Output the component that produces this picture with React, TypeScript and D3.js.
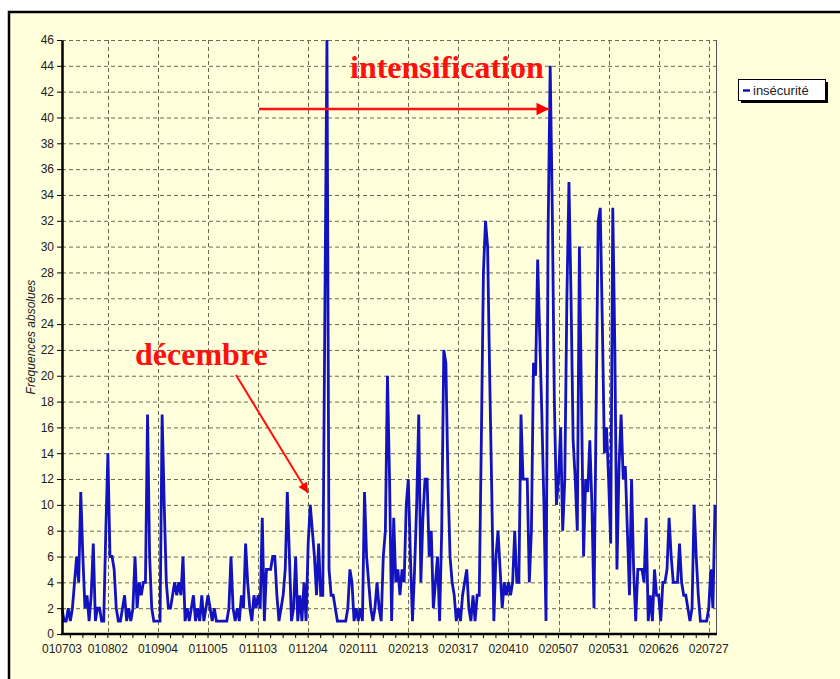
import { useEffect, useRef } from "react";
import * as d3 from "d3";

// category labels shown on the x axis and the category index where each sits
const tickLabels = [
  "010703", "010802", "010904", "011005", "011103", "011204", "020111",
  "020213", "020317", "020410", "020507", "020531", "020626", "020727"
];
const tickIndex = [0, 22, 46, 70, 94, 118, 142, 166, 190, 214, 238, 262, 286, 310];

// daily counts, series "insécurité"
const insecurite = [
  2, 1, 1, 2, 1, 2, 4, 6, 4, 11, 6, 2, 3, 1, 3, 7, 1, 2, 2, 1, 1, 8,
  14, 6, 6, 5, 2, 1, 1, 2, 3, 1, 2, 1, 2, 6, 2, 4, 3, 4, 4, 17, 6, 2, 1, 1,
  1, 1, 17, 10, 4, 2, 2, 3, 4, 3, 4, 3, 6, 1, 2, 1, 2, 3, 1, 2, 1, 3, 1, 2,
  3, 2, 1, 2, 1, 1, 1, 1, 1, 1, 2, 6, 2, 1, 2, 1, 3, 2, 7, 4, 2, 1, 3, 2,
  3, 2, 9, 1, 5, 5, 5, 6, 6, 3, 1, 2, 3, 5, 11, 6, 1, 2, 6, 1, 3, 1, 4, 1,
  7, 10, 8, 6, 3, 7, 3, 3, 25, 46, 5, 3, 3, 2, 1, 1, 1, 1, 1, 2, 5, 4, 1, 2,
  1, 2, 1, 11, 6, 4, 2, 1, 2, 4, 2, 1, 6, 8, 20, 12, 1, 9, 4, 5, 3, 5, 4, 10,
  12, 6, 1, 5, 10, 17, 4, 9, 12, 12, 6, 8, 2, 4, 6, 1, 8, 22, 21, 12, 6, 4, 3, 1,
  2, 1, 3, 4, 5, 2, 1, 3, 1, 3, 3, 15, 28, 32, 30, 20, 11, 1, 6, 8, 5, 2, 4, 3,
  4, 3, 4, 8, 4, 4, 17, 12, 12, 12, 4, 8, 21, 20, 29, 23, 17, 10, 1, 31, 44, 33, 18, 10,
  12, 16, 8, 12, 26, 35, 26, 15, 12, 8, 30, 18, 6, 12, 11, 15, 10, 2, 17, 32, 33, 24, 14, 16,
  12, 7, 33, 22, 5, 13, 17, 12, 13, 8, 3, 12, 5, 1, 5, 5, 5, 4, 9, 1, 3, 1, 5, 3,
  3, 1, 4, 4, 5, 9, 6, 4, 4, 4, 7, 4, 3, 3, 2, 1, 2, 10, 6, 3, 1, 1, 1, 1,
  2, 5, 2, 10
];

const yTicks = d3.range(0, 47, 2);

export default function App() {
  const ref = useRef<SVGSVGElement>(null);

  useEffect(() => {
    const width = 840;
    const height = 679;
    const left = 62;
    const right = 716;
    const top = 40;
    const bottom = 634;
    const font = "'Liberation Sans', Arial, sans-serif";

    const svg = d3.select(ref.current);
    svg.selectAll("*").remove();
    svg.attr("width", width).attr("height", height)
      .attr("viewBox", [0, 0, width, height])
      .attr("style", "position:absolute;left:0;top:0;background:#fff");

    // outer chart frame
    svg.append("rect")
      .attr("x", 9).attr("y", 12).attr("width", 860).attr("height", 700)
      .attr("fill", "#ffffdc").attr("stroke", "#000").attr("stroke-width", 2.5);

    const x = d3.scaleLinear()
      .domain([0, insecurite.length - 1])
      .range([left, 715]);

    const y = d3.scaleLinear()
      .domain([0, 46])
      .range([bottom, top]);

    const grid = svg.append("g")
      .attr("stroke", "#6a6a55").attr("stroke-width", 1).attr("stroke-dasharray", "4,3");

    grid.selectAll("line.h")
      .data(yTicks.filter(d => d > 0))
      .join("line")
        .attr("x1", left).attr("x2", right)
        .attr("y1", d => y(d) + 0.5).attr("y2", d => y(d) + 0.5);

    grid.selectAll("line.v")
      .data(tickIndex.slice(1))
      .join("line")
        .attr("x1", d => Math.round(x(d)) + 0.5).attr("x2", d => Math.round(x(d)) + 0.5)
        .attr("y1", top).attr("y2", bottom);

    // right frame of plot
    svg.append("line")
      .attr("x1", right + 0.5).attr("x2", right + 0.5)
      .attr("y1", top).attr("y2", bottom)
      .attr("stroke", "#555").attr("stroke-width", 1);

    // series line
    svg.append("path")
      .datum(insecurite)
      .attr("fill", "none")
      .attr("stroke", "#1212c0")
      .attr("stroke-width", 2.8)
      .attr("stroke-linejoin", "miter")
      .attr("d", d3.line<number>().x((d, i) => x(i)).y(d => y(d)));

    // axes
    const yAxis = svg.append("g")
      .attr("transform", `translate(${left},0)`)
      .call(d3.axisLeft(y).tickValues(yTicks).tickSize(5).tickSizeOuter(0).tickPadding(3));
    yAxis.select(".domain").attr("stroke-width", 2.5);
    yAxis.selectAll("text").attr("font-family", font).attr("font-size", 12).attr("fill", "#222");

    const xAxis = svg.append("g")
      .attr("transform", `translate(0,${bottom})`);
    xAxis.append("line")
      .attr("x1", left - 1).attr("x2", right + 1)
      .attr("stroke", "#000").attr("stroke-width", 2.5);
    const minor = d3.range(-5, 53).map(k => 22 + 6 * k).filter(i => i >= 0 && i < insecurite.length);
    xAxis.selectAll("line.m")
      .data(minor)
      .join("line")
        .attr("x1", d => x(d)).attr("x2", d => x(d))
        .attr("y1", 0).attr("y2", 4)
        .attr("stroke", "#000").attr("stroke-width", 1);
    xAxis.selectAll("text")
      .data(tickIndex)
      .join("text")
        .attr("x", d => x(d))
        .attr("y", 19)
        .attr("text-anchor", "middle")
        .attr("font-family", font).attr("font-size", 12).attr("fill", "#222")
        .text((d, i) => tickLabels[i]);

    // y axis title
    svg.append("text")
      .attr("transform", `translate(35,${(top + bottom) / 2}) rotate(-90)`)
      .attr("text-anchor", "middle")
      .attr("font-family", font).attr("font-size", 12).attr("font-style", "italic")
      .attr("fill", "#222")
      .text("Fréquences absolues");

    // legend
    const lg = svg.append("g").attr("transform", "translate(738,79)");
    lg.append("rect").attr("x", 3).attr("y", 3).attr("width", 87).attr("height", 21).attr("fill", "#000");
    lg.append("rect").attr("x", 0.5).attr("y", 0.5).attr("width", 87).attr("height", 21)
      .attr("fill", "#fff").attr("stroke", "#000");
    lg.append("line").attr("x1", 5).attr("x2", 12).attr("y1", 11.5).attr("y2", 11.5)
      .attr("stroke", "#1212c0").attr("stroke-width", 2.5);
    lg.append("text").attr("x", 15).attr("y", 16)
      .attr("font-family", font).attr("font-size", 13).attr("fill", "#222")
      .text("insécurité");

    // annotations
    const defs = svg.append("defs");
    defs.append("marker")
      .attr("id", "ah").attr("viewBox", "0 0 10 10")
      .attr("refX", 10).attr("refY", 5)
      .attr("markerWidth", 6).attr("markerHeight", 5)
      .attr("markerUnits", "strokeWidth")
      .attr("orient", "auto")
      .append("path").attr("d", "M0,0L10,5L0,10Z").attr("fill", "#ff0000");

    const red = "#ff1010";
    const serif = "'Liberation Serif', 'Times New Roman', serif";
    svg.append("text")
      .attr("x", 350).attr("y", 78)
      .attr("font-family", serif).attr("font-size", 32).attr("font-weight", "bold")
      .attr("fill", red)
      .text("intensification");
    svg.append("line")
      .attr("x1", 259).attr("y1", 109).attr("x2", 549).attr("y2", 109)
      .attr("stroke", red).attr("stroke-width", 2.5)
      .attr("marker-end", "url(#ah)");

    svg.append("text")
      .attr("x", 135).attr("y", 365)
      .attr("font-family", serif).attr("font-size", 32).attr("font-weight", "bold")
      .attr("fill", red)
      .text("décembre");
    svg.append("line")
      .attr("x1", 236).attr("y1", 375).attr("x2", 308).attr("y2", 493)
      .attr("stroke", red).attr("stroke-width", 2)
      .attr("marker-end", "url(#ah)");
  }, []);

  return <svg ref={ref}></svg>;
}
